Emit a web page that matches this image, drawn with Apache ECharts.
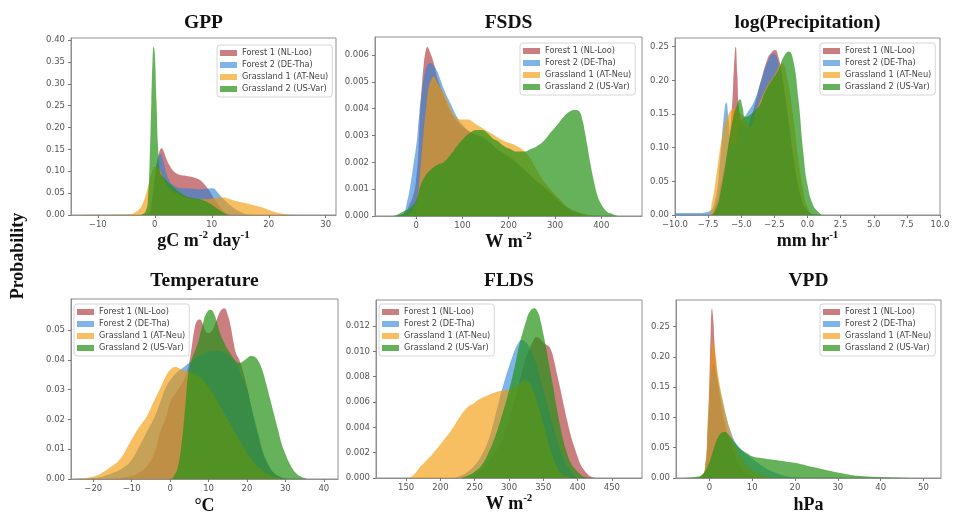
<!DOCTYPE html>
<html>
<head>
<meta charset="utf-8">
<script src="https://cdn.jsdelivr.net/npm/echarts@6/dist/echarts.min.js"></script>
<style>
  html, body { margin: 0; padding: 0; background: #fff; }
  #chart { width: 953px; height: 512px; }
</style>
</head>
<body>
<div id="chart"></div>
<script>
const siteNames = ['Forest 1 (NL-Loo)', 'Forest 2 (DE-Tha)', 'Grassland 1 (AT-Neu)', 'Grassland 2 (US-Var)'];
const siteColors = ['rgba(168,40,44,0.6)', 'rgba(40,130,215,0.6)', 'rgba(242,152,0,0.62)', 'rgba(35,145,22,0.7)'];

// ---- GPP ----
const gppForest1 = [[-14,0],[-3,0],[-1.2,0.002],[-0.5,0.03],[0,0.08],[0.5,0.125],[0.9,0.148],[1.2,0.153],[1.6,0.145],[2,0.13],[2.6,0.113],[3.2,0.102],[4,0.094],[4.7,0.091],[5.4,0.09],[6.1,0.088],[7,0.085],[7.9,0.08],[8.5,0.073],[9.1,0.064],[9.7,0.053],[10.2,0.042],[10.8,0.03],[11.4,0.019],[12,0.01],[12.6,0.004],[13.5,0.001],[15,0],[31.5,0]];
const gppForest2 = [[-14,0],[-3,0],[-1.2,0.002],[-0.5,0.035],[0,0.09],[0.5,0.128],[1,0.14],[1.4,0.128],[2,0.097],[2.6,0.078],[3.2,0.069],[4,0.063],[5,0.061],[6.5,0.06],[7.9,0.059],[9,0.06],[10.2,0.061],[10.8,0.055],[11.4,0.046],[12.2,0.035],[13.2,0.023],[14,0.015],[14.9,0.008],[15.8,0.003],[16.7,0.001],[18,0],[31.5,0]];
const gppGrass1 = [[-14,0],[-10,0.0005],[-6,0.001],[-4,0.003],[-3.2,0.008],[-2.6,0.015],[-2,0.03],[-1.5,0.05],[-1,0.075],[-0.6,0.095],[0,0.11],[0.5,0.109],[0.9,0.103],[1.4,0.088],[2,0.072],[3,0.056],[4.4,0.046],[6,0.039],[7.9,0.036],[9,0.036],[10.2,0.038],[11,0.04],[12,0.04],[13,0.037],[13.7,0.034],[15,0.03],[16.1,0.027],[17.2,0.023],[18.4,0.019],[19.6,0.014],[20.8,0.008],[22,0.004],[23.1,0.002],[25.4,0],[31.5,0]];
const gppGrass2 = [[-14,0],[-3,0],[-2,0.003],[-1.5,0.012],[-1.2,0.034],[-0.9,0.12],[-0.6,0.26],[-0.4,0.35],[-0.2,0.385],[0,0.37],[0.3,0.26],[0.6,0.15],[0.9,0.1],[1.4,0.088],[2,0.08],[2.6,0.072],[3.2,0.065],[4.4,0.052],[5.6,0.043],[6.8,0.039],[7.9,0.036],[8.8,0.032],[9.6,0.027],[10.5,0.019],[11.4,0.011],[12,0.006],[12.6,0.002],[13.5,0],[31.5,0]];
const gppXTicks = [-10, 0, 10, 20, 30];
const gppYTicks = [0, 0.05, 0.10, 0.15, 0.20, 0.25, 0.30, 0.35, 0.40];

// ---- FSDS ----
const fsdsForest1 = [[-85,0],[-40,0],[-25,0.0001],[-15,0.0004],[-6,0.0008],[0,0.0014],[5,0.0025],[8.7,0.004],[13,0.005],[16,0.0056],[20,0.0061],[24,0.0063],[30,0.0061],[38,0.0057],[45,0.0052],[55,0.0047],[66,0.0042],[81,0.0037],[95,0.0034],[110,0.0032],[130,0.003],[150,0.0028],[175,0.0025],[203,0.0021],[220,0.0019],[240,0.0016],[260,0.0013],[276,0.0011],[295,0.0008],[312,0.0005],[333,0.0002],[355,0.00005],[375,0],[485,0]];
const fsdsForest2 = [[-85,0],[-45,0],[-35,0.00005],[-27,0.0001],[-20,0.0005],[-13,0.0011],[-6,0.0019],[1.4,0.0028],[6,0.0037],[12,0.0046],[18,0.0053],[24,0.0056],[30,0.0057],[38,0.0056],[45,0.0054],[52,0.0051],[63,0.0046],[74,0.0042],[88,0.0037],[100,0.0034],[120,0.0031],[150,0.0029],[175,0.0025],[203,0.0022],[230,0.0018],[260,0.0013],[290,0.0008],[312,0.0005],[340,0.0002],[370,0.00005],[395,0],[485,0]];
const fsdsGrass1 = [[-85,0],[-30,0],[-15,0.0001],[-5,0.0003],[1.4,0.0006],[8,0.0015],[16,0.0031],[22,0.0041],[27,0.0048],[33,0.0051],[38,0.0052],[45,0.005],[52,0.0048],[59,0.0046],[70,0.0042],[81,0.0038],[95,0.0036],[110,0.0036],[131,0.0034],[160,0.0031],[189,0.0028],[218,0.0026],[240,0.0023],[258,0.0018],[276,0.0013],[295,0.0009],[312,0.0006],[330,0.0003],[348,0.00016],[370,0.00005],[400,0],[485,0]];
const fsdsGrass2 = [[-85,0],[-55,0],[-42,0.00005],[-25,0.0002],[-13,0.0003],[0,0.0006],[8.7,0.0011],[20,0.0015],[30,0.0017],[45,0.0019],[59,0.002],[75,0.0023],[88,0.0026],[103,0.0029],[117,0.0031],[131,0.0032],[142,0.0032],[153,0.0031],[165,0.0029],[175,0.0028],[190,0.0026],[203,0.0025],[218,0.0024],[232,0.0024],[248,0.0025],[261,0.0026],[276,0.0028],[290,0.0031],[305,0.0034],[319,0.0037],[333,0.0039],[344,0.00395],[352,0.0039],[359,0.0036],[365,0.0031],[369,0.0027],[377,0.0019],[384,0.0013],[391,0.0008],[398,0.0005],[410,0.0002],[420,0.0001],[440,0],[485,0]];
const fsdsXTicks = [0, 100, 200, 300, 400];
const fsdsYTicks = [0, 0.001, 0.002, 0.003, 0.004, 0.005, 0.006];

// ---- log(Precipitation) ----
const precipForest1 = [[-10,0],[-7.5,0],[-7,0.01],[-6.5,0.05],[-6,0.1],[-5.7,0.16],[-5.55,0.22],[-5.42,0.25],[-5.3,0.21],[-5.15,0.155],[-4.9,0.135],[-4.6,0.132],[-4.3,0.142],[-4,0.163],[-3.5,0.2],[-3,0.233],[-2.7,0.242],[-2.45,0.245],[-2.2,0.235],[-1.9,0.205],[-1.5,0.15],[-1,0.08],[-0.5,0.028],[0,0.006],[0.5,0],[10,0]];
const precipForest2 = [[-10,0.003],[-8.5,0.003],[-7.5,0.005],[-7,0.02],[-6.6,0.08],[-6.35,0.14],[-6.13,0.167],[-5.95,0.14],[-5.75,0.105],[-5.5,0.105],[-5.1,0.135],[-4.6,0.15],[-4,0.17],[-3.5,0.2],[-3,0.228],[-2.57,0.24],[-2.2,0.227],[-1.8,0.185],[-1.4,0.13],[-1,0.072],[-0.5,0.025],[0,0.006],[0.5,0.001],[1,0],[10,0]];
const precipGrass1 = [[-10,0],[-7.6,0],[-7.2,0.02],[-6.8,0.07],[-6.4,0.12],[-6,0.148],[-5.5,0.158],[-5,0.15],[-4.6,0.138],[-4.35,0.132],[-4,0.148],[-3.5,0.173],[-3,0.193],[-2.5,0.208],[-1.93,0.225],[-1.5,0.2],[-1.1,0.15],[-0.7,0.085],[-0.3,0.035],[0,0.012],[0.5,0.001],[1,0],[10,0]];
const precipGrass2 = [[-10,0],[-7.5,0],[-7,0.005],[-6.5,0.04],[-6,0.1],[-5.6,0.145],[-5.3,0.165],[-5.1,0.172],[-4.9,0.16],[-4.7,0.146],[-4.4,0.148],[-4,0.155],[-3.6,0.163],[-3.2,0.183],[-2.7,0.2],[-2.2,0.215],[-1.8,0.235],[-1.42,0.243],[-1.1,0.232],[-0.7,0.175],[-0.3,0.09],[0,0.045],[0.4,0.016],[0.8,0.005],[1.3,0],[10,0]];
const precipXTicks = [-10, -7.5, -5, -2.5, 0, 2.5, 5, 7.5, 10];
const precipYTicks = [0, 0.05, 0.10, 0.15, 0.20, 0.25];

// ---- Temperature ----
const tempForest1 = [[-25,0],[-16,0],[-12,0.0005],[-10,0.001],[-8,0.0022],[-6,0.0044],[-4,0.009],[-2.6,0.0156],[-1,0.021],[0,0.0256],[1.5,0.029],[2.6,0.031],[3.8,0.034],[4.8,0.038],[5.6,0.044],[6.3,0.05],[7,0.053],[7.7,0.0535],[8.5,0.052],[9.3,0.0495],[10,0.049],[11,0.05],[12,0.053],[13.2,0.0565],[14.1,0.0573],[15,0.055],[15.8,0.051],[16.5,0.046],[17.2,0.042],[18,0.04],[19,0.036],[20,0.031],[21,0.025],[22,0.019],[23,0.014],[24,0.009],[25,0.006],[26,0.0035],[27,0.002],[29,0.0005],[31,0],[43,0]];
const tempForest2 = [[-25,0],[-20,0.0003],[-15,0.002],[-12,0.004],[-10,0.0065],[-8,0.011],[-6,0.016],[-4,0.021],[-2.5,0.026],[-1,0.031],[0.5,0.034],[2,0.036],[3.5,0.0375],[5,0.039],[6.5,0.0405],[8,0.0415],[9.5,0.0425],[11,0.043],[12.5,0.043],[14,0.0425],[15.5,0.041],[17,0.039],[18.5,0.035],[20,0.03],[21,0.025],[22,0.02],[23,0.015],[24,0.01],[25,0.0065],[26,0.004],[27,0.002],[28.5,0.0008],[30,0.0002],[32,0],[43,0]];
const tempGrass1 = [[-25,0],[-22,0.0003],[-20,0.0008],[-18.2,0.0017],[-15.5,0.004],[-13,0.0067],[-11,0.011],[-9.5,0.0144],[-8,0.0175],[-6.1,0.021],[-4.8,0.0245],[-3.5,0.028],[-2.2,0.0315],[-0.9,0.035],[0.2,0.0368],[1.3,0.0376],[2.2,0.0373],[3,0.0367],[5,0.036],[7,0.0348],[9,0.0325],[11,0.029],[13,0.0245],[15,0.02],[17,0.0155],[19,0.011],[21,0.007],[23,0.004],[25,0.002],[27,0.0008],[29,0.0002],[31,0],[43,0]];
const tempGrass2 = [[-25,0],[0,0],[1,0.001],[2,0.004],[3,0.012],[4,0.025],[4.8,0.036],[5.6,0.04],[6.5,0.043],[7.5,0.047],[8.5,0.052],[9.5,0.0558],[10.5,0.0568],[11.4,0.0555],[12.2,0.0525],[13,0.049],[14,0.046],[15,0.0435],[16,0.0415],[17,0.0398],[18,0.039],[19,0.0395],[20,0.0405],[21,0.0413],[22,0.041],[23,0.0395],[24,0.0365],[25,0.032],[26,0.027],[27,0.022],[28,0.017],[29,0.012],[30,0.0085],[31,0.0055],[32,0.0032],[33,0.0017],[34,0.0008],[35,0.0003],[36,0],[43,0]];
const tempXTicks = [-20, -10, 0, 10, 20, 30, 40];
const tempYTicks = [0, 0.01, 0.02, 0.03, 0.04, 0.05];

// ---- FLDS ----
const fldsForest1 = [[107,0],[230,0],[245,0.0002],[260,0.0006],[270,0.0012],[280,0.002],[290,0.003],[300,0.0045],[308,0.006],[315,0.0075],[322,0.009],[330,0.0102],[335,0.0108],[340,0.0111],[345,0.011],[350,0.0107],[355,0.0105],[358,0.0104],[362,0.01],[366,0.0092],[370,0.0082],[375,0.007],[380,0.0057],[385,0.0045],[390,0.0034],[395,0.0025],[400,0.0017],[405,0.001],[410,0.0006],[415,0.0003],[420,0.0001],[430,0],[493,0]];
const fldsForest2 = [[107,0],[215,0],[230,0.0002],[240,0.0005],[250,0.001],[260,0.0018],[270,0.003],[278,0.0045],[285,0.006],[292,0.0074],[300,0.0088],[305,0.0096],[310,0.0103],[314,0.0107],[318,0.0109],[323,0.0108],[328,0.0105],[334,0.0098],[340,0.009],[345,0.008],[350,0.007],[355,0.006],[360,0.005],[365,0.004],[370,0.003],[375,0.0022],[380,0.0015],[385,0.0009],[390,0.0005],[395,0.0002],[405,0],[493,0]];
const fldsGrass1 = [[107,0],[150,0],[160,0.0002],[170.7,0.0009],[180,0.0014],[190,0.002],[204.9,0.003],[215,0.0037],[229.3,0.0049],[240,0.0056],[248.8,0.0059],[256,0.0062],[263.4,0.0064],[272,0.0066],[282.9,0.0068],[292,0.0069],[302.4,0.007],[310,0.0072],[317,0.0075],[322,0.0077],[328,0.0076],[332,0.0073],[336.6,0.0067],[342,0.0058],[351.2,0.0041],[358,0.0027],[365.9,0.0014],[371,0.0008],[375.6,0.0004],[385,0.0001],[395,0],[493,0]];
const fldsGrass2 = [[107,0],[225,0],[240,0.0002],[250,0.0005],[260,0.001],[270,0.002],[280,0.0033],[290,0.005],[298,0.0065],[305,0.008],[310,0.0092],[315,0.0105],[320,0.0115],[325,0.0124],[330,0.0131],[336.6,0.0134],[342,0.0131],[346,0.0124],[350,0.0114],[355,0.01],[360,0.0085],[365,0.007],[370,0.0054],[375,0.004],[380,0.0028],[385,0.0019],[390,0.0012],[395,0.0008],[402,0.0004],[410,0.0001],[420,0],[493,0]];
const fldsXTicks = [150, 200, 250, 300, 350, 400, 450];
const fldsYTicks = [0, 0.002, 0.004, 0.006, 0.008, 0.010, 0.012];

// ---- VPD ----
const vpdForest1 = [[-7.5,0],[-3,0],[-2,0.002],[-1,0.015],[-0.4,0.08],[0,0.16],[0.3,0.24],[0.6,0.28],[0.9,0.262],[1.2,0.222],[1.6,0.185],[2,0.16],[2.5,0.133],[3,0.11],[3.5,0.093],[4,0.079],[5,0.055],[6,0.036],[7,0.021],[8,0.011],[9,0.006],[10,0.003],[12,0.0008],[14,0],[54,0]];
const vpdForest2 = [[-7.5,0],[-3,0],[-2,0.002],[-1,0.015],[-0.4,0.07],[0,0.12],[0.5,0.175],[0.9,0.188],[1.3,0.18],[2,0.16],[3,0.13],[4,0.1],[5,0.077],[6,0.06],[7,0.05],[8,0.043],[9,0.037],[10,0.032],[11,0.027],[12,0.022],[13,0.017],[14,0.013],[15,0.01],[16,0.007],[18,0.003],[20,0.001],[23,0],[54,0]];
const vpdGrass1 = [[-7.5,0],[-3,0],[-2,0.002],[-1,0.02],[-0.4,0.09],[0,0.145],[0.4,0.2],[0.7,0.228],[1,0.222],[1.5,0.2],[2,0.172],[3,0.132],[4,0.1],[5,0.073],[6,0.053],[7,0.038],[8,0.027],[9,0.019],[10,0.013],[12,0.006],[14,0.002],[16,0],[54,0]];
const vpdGrass2 = [[-7.5,0],[-5,0.0005],[-3,0.002],[-2,0.004],[-1,0.011],[0,0.026],[1,0.048],[2,0.067],[2.8,0.0745],[3.5,0.076],[4.2,0.0735],[5,0.067],[6,0.058],[7,0.05],[8,0.044],[9,0.04],[10,0.036],[12,0.033],[15,0.03],[18,0.027],[20,0.025],[23,0.02],[25,0.017],[28,0.012],[30,0.009],[33,0.005],[36,0.003],[40,0.0015],[45,0.0005],[50,0],[54,0]];
const vpdXTicks = [0, 10, 20, 30, 40, 50];
const vpdYTicks = [0, 0.05, 0.10, 0.15, 0.20, 0.25];

const panels = [
  { title: 'GPP', axisName: '{a|gC m}{s|-2}{a| day}{s|-1}', box: [71, 38, 265, 177], x: [-14.7, 31.8], xTicks: gppXTicks, xDec: 0,
    yMax: 0.405, yTicks: gppYTicks, yDec: 2, legend: { left: 217, top: 45 }, nameGap: 12,
    curves: [gppForest1, gppForest2, gppGrass1, gppGrass2] },
  { title: 'FSDS', axisName: '{a|W m}{s|-2}', box: [375, 37, 267, 179], x: [-89, 488], xTicks: fsdsXTicks, xDec: 0,
    yMax: 0.00667, yTicks: fsdsYTicks, yDec: 3, legend: { left: 520, top: 43 }, nameGap: 12,
    curves: [fsdsForest1, fsdsForest2, fsdsGrass1, fsdsGrass2] },
  { title: 'log(Precipitation)', axisName: '{a|mm hr}{s|-1}', box: [675, 38, 265, 177], x: [-10, 10], xTicks: precipXTicks, xDec: 1,
    yMax: 0.263, yTicks: precipYTicks, yDec: 2, legend: { left: 820, top: 43 }, nameGap: 10,
    curves: [precipForest1, precipForest2, precipGrass1, precipGrass2] },
  { title: 'Temperature', axisName: '{a|°C}', box: [71, 299, 267, 180], x: [-25.8, 43.7], xTicks: tempXTicks, xDec: 0,
    yMax: 0.0604, yTicks: tempYTicks, yDec: 2, legend: { left: 74, top: 304 }, nameGap: 16,
    curves: [tempForest1, tempForest2, tempGrass1, tempGrass2] },
  { title: 'FLDS', axisName: '{a|W m}{s|-2}', box: [376, 300, 266, 178], x: [106, 494], xTicks: fldsXTicks, xDec: 0,
    yMax: 0.01405, yTicks: fldsYTicks, yDec: 3, legend: { left: 379, top: 304 }, nameGap: 15,
    curves: [fldsForest1, fldsForest2, fldsGrass1, fldsGrass2] },
  { title: 'VPD', axisName: '{a|hPa}', box: [676, 300, 265, 178], x: [-7.8, 54.1], xTicks: vpdXTicks, xDec: 0,
    yMax: 0.294, yTicks: vpdYTicks, yDec: 2, legend: { left: 820, top: 304 }, nameGap: 16,
    curves: [vpdForest1, vpdForest2, vpdGrass1, vpdGrass2] }
];

const fmt = (d) => (v) => v.toFixed(d).replace('-', '\u2212');
const tickFont = { fontSize: 8.5, color: '#555', fontFamily: 'DejaVu Sans' };
const serif = '"Liberation Serif", "Times New Roman", serif';

const option = {
  animation: false,
  backgroundColor: '#fff',
  grid: panels.map(p => ({
    left: p.box[0], top: p.box[1], width: p.box[2], height: p.box[3],
    show: true, borderColor: '#8f8f8f', borderWidth: 1, containLabel: false, outerBoundsMode: 'none'
  })),
  xAxis: panels.map((p, i) => ({
    type: 'value', gridIndex: i, min: p.x[0], max: p.x[1],
    axisLine: { show: true, onZero: false, lineStyle: { color: '#8f8f8f', width: 1 } },
    axisTick: { show: true, length: 3, lineStyle: { color: '#777' }, customValues: p.xTicks },
    axisLabel: { ...tickFont, margin: 5, customValues: p.xTicks, formatter: fmt(p.xDec) },
    splitLine: { show: false },
    name: p.axisName, nameLocation: 'middle', nameGap: p.nameGap,
    nameTextStyle: {
      rich: {
        a: { fontFamily: serif, fontWeight: 'bold', fontSize: 18, lineHeight: 22, color: '#111' },
        s: { fontFamily: serif, fontWeight: 'bold', fontSize: 11, lineHeight: 13, verticalAlign: 'top', color: '#111' }
      }
    }
  })),
  yAxis: panels.map((p, i) => ({
    type: 'value', gridIndex: i, min: 0, max: p.yMax,
    axisLine: { show: true, onZero: false, lineStyle: { color: '#8f8f8f', width: 1 } },
    axisTick: { show: true, length: 3, lineStyle: { color: '#777' }, customValues: p.yTicks },
    axisLabel: { ...tickFont, margin: 6, customValues: p.yTicks, formatter: fmt(p.yDec) },
    splitLine: { show: false }
  })),
  legend: panels.map(p => ({
    data: siteNames, orient: 'vertical', left: p.legend.left, top: p.legend.top,
    icon: 'rect', itemWidth: 17, itemHeight: 6, itemGap: 2,
    padding: [3, 4, 3, 3], borderColor: '#d6d6d6', borderWidth: 1, borderRadius: 3,
    backgroundColor: 'rgba(255,255,255,0.8)',
    textStyle: { fontSize: 8.2, color: '#444', fontFamily: 'DejaVu Sans', lineHeight: 10 },
    selectedMode: false
  })),
  series: panels.flatMap((p, i) => p.curves.map((curve, k) => ({
    type: 'line', name: siteNames[k], xAxisIndex: i, yAxisIndex: i,
    data: curve, smooth: 0.5,
    showSymbol: false, symbol: 'none', silent: true,
    itemStyle: { color: siteColors[k] },
    lineStyle: { width: 0, color: siteColors[k] },
    areaStyle: { color: siteColors[k], opacity: 1 }
  }))),
  graphic: [
    ...panels.map(p => ({
      type: 'text',
      x: p.box[0] + p.box[2] / 2,
      y: p.box[1] < 100 ? 23 : 281,
      style: { text: p.title, font: 'bold 19.5px ' + serif, textAlign: 'center', textVerticalAlign: 'middle', fill: '#111' }
    })),
    {
      type: 'text', x: 18, y: 256, rotation: Math.PI / 2,
      style: { text: 'Probability', font: 'bold 18px ' + serif, textAlign: 'center', textVerticalAlign: 'middle', fill: '#111' }
    }
  ]
};

const chart = echarts.init(document.getElementById('chart'));
chart.setOption(option);
</script>
</body>
</html>
